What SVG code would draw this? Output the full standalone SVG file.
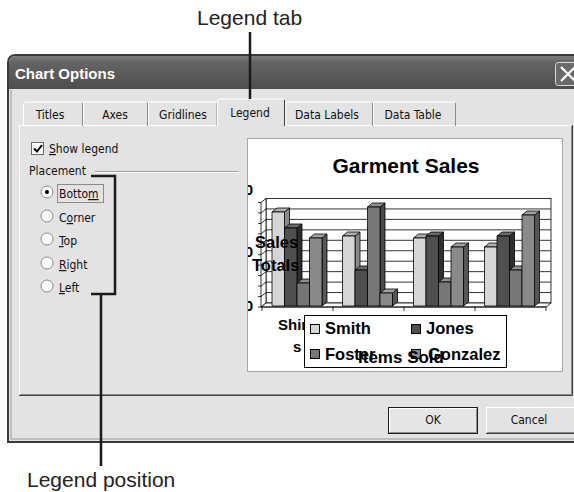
<svg xmlns="http://www.w3.org/2000/svg" width="574" height="492" viewBox="0 0 574 492">
<defs>
<linearGradient id="tb" x1="0" y1="0" x2="0" y2="1"><stop offset="0" stop-color="#7c7c7c"/><stop offset="0.2" stop-color="#646464"/><stop offset="1" stop-color="#4e4e4e"/></linearGradient>
<clipPath id="chartClip"><rect x="248" y="139" width="315" height="233"/></clipPath>
<style>
.ui{font-family:'DejaVu Sans Condensed','DejaVu Sans',sans-serif;font-stretch:condensed;font-size:12px;fill:#111}
.ch{font-family:'Liberation Sans',Arial,sans-serif;font-weight:bold;fill:#000}
.call{font-family:'Liberation Sans',Arial,sans-serif;font-size:21px;fill:#222}
.hl{fill:none;stroke:#fff}
.sh{fill:none;stroke:#8c8c8c}
.dk{fill:none;stroke:#404040}
.bar{stroke:#000;stroke-width:0.8;stroke-linejoin:round}
.s1{fill:#d6d6d6}.s1t{fill:#b0b0b0}.s1s{fill:#8a8a8a}
.s2{fill:#4f4f4f}.s2t{fill:#6a6a6a}.s2s{fill:#2e2e2e}
.s3{fill:#767676}.s3t{fill:#8e8e8e}.s3s{fill:#4a4a4a}
.s4{fill:#8a8a8a}.s4t{fill:#a2a2a2}.s4s{fill:#565656}
.radio{fill:#fff;stroke:#8a8a8a}
.cl{fill:none;stroke:#1a1a1a;stroke-width:2.5}
</style>
</defs>
<rect x="0" y="0" width="574" height="492" fill="#fff"/>

<g id="dialog">
  <path d="M8,442V63Q8,55 16,55H590V442Z" fill="#e3e3e3" stroke="#3a3a3a" stroke-width="2"/>
  <path d="M11,90V439H590" fill="none" stroke="#9a9a9a"/>
  <path d="M9,89V63Q9,56 16,56H590V89Z" fill="url(#tb)"/>
  <text x="15" y="79" font-family="'Liberation Sans',Arial,sans-serif" font-weight="bold" font-size="15" fill="#fff">Chart Options</text>
  <g id="close-button">
    <rect x="555.5" y="62.5" width="26" height="23" rx="3" fill="#6a6a6a" stroke="#dcdcdc"/>
    <path d="M561,67L575,81M575,67L561,81" stroke="#fff" stroke-width="2.2" fill="none"/>
  </g>
</g>

<g id="panel">
  <path class="hl" d="M19.5,395V125.5H217.5M285.5,125.5H571"/>
  <path class="sh" d="M20,394.5H571.5V126"/>
  <path class="dk" d="M19,395.5H572.5V125"/>
</g>

<g id="tabs">
  <g id="tab-titles">
    <path class="hl" d="M23.5,126V104l2-2H81.5"/><path class="sh" d="M82.5,103V126"/>
    <text class="ui" x="50" y="119" text-anchor="middle">Titles</text>
  </g>
  <g id="tab-axes">
    <path class="hl" d="M83.5,126V102H146.5"/><path class="sh" d="M147.5,103V126"/>
    <text class="ui" x="115" y="119" text-anchor="middle">Axes</text>
  </g>
  <g id="tab-gridlines">
    <path class="hl" d="M148.5,126V102H216.5"/><path class="sh" d="M217,103V126"/>
    <text class="ui" x="183" y="119" text-anchor="middle">Gridlines</text>
  </g>
  <g id="tab-legend">
    <path class="hl" d="M217.5,126V101l2-2H283.5"/><path class="dk" d="M284.5,100V126"/>
    <text class="ui" x="250" y="117" text-anchor="middle">Legend</text>
  </g>
  <g id="tab-data-labels">
    <path class="hl" d="M286,126V102H371.5"/><path class="sh" d="M372.5,103V126"/>
    <text class="ui" x="327" y="119" text-anchor="middle">Data Labels</text>
  </g>
  <g id="tab-data-table">
    <path class="hl" d="M373.5,126V102H454.5"/><path class="sh" d="M455.5,103V126"/>
    <text class="ui" x="413" y="119" text-anchor="middle">Data Table</text>
  </g>
</g>

<g id="options">
  <g id="show-legend">
    <rect x="31.5" y="142.5" width="12" height="12" fill="#fff" stroke="#6a6a6a"/>
    <path d="M34,148.5L37,151.5L42,145" fill="none" stroke="#000" stroke-width="2"/>
    <text class="ui" x="49" y="153"><tspan text-decoration="underline">S</tspan>how legend</text>
  </g>
  <g id="placement">
    <text class="ui" x="29" y="175">Placement</text>
    <line x1="95" y1="171.5" x2="239" y2="171.5" stroke="#a0a0a0"/>
    <line x1="95" y1="172.5" x2="239" y2="172.5" stroke="#fff"/>
  </g>
  <g id="opt-bottom">
    <circle class="radio" cx="47" cy="192" r="6"/><circle cx="47" cy="192" r="2" fill="#000"/>
    <rect x="57.5" y="184.5" width="46" height="18" fill="none" stroke="#333" stroke-dasharray="1,1"/>
    <text class="ui" x="59" y="198">Botto<tspan text-decoration="underline">m</tspan></text>
  </g>
  <g id="opt-corner">
    <circle class="radio" cx="47" cy="216" r="6"/>
    <text class="ui" x="59" y="222">C<tspan text-decoration="underline">o</tspan>rner</text>
  </g>
  <g id="opt-top">
    <circle class="radio" cx="47" cy="239" r="6"/>
    <text class="ui" x="59" y="245"><tspan text-decoration="underline">T</tspan>op</text>
  </g>
  <g id="opt-right">
    <circle class="radio" cx="47" cy="263" r="6"/>
    <text class="ui" x="59" y="269"><tspan text-decoration="underline">R</tspan>ight</text>
  </g>
  <g id="opt-left">
    <circle class="radio" cx="47" cy="286" r="6"/>
    <text class="ui" x="59" y="292"><tspan text-decoration="underline">L</tspan>eft</text>
  </g>
</g>

<g id="chart-preview">
  <rect x="247.5" y="138.5" width="315" height="233" fill="#fff" stroke="#a8a8a8"/>
  <text class="ch" x="406" y="173" font-size="21" text-anchor="middle">Garment Sales</text>
  <g id="plot" stroke="#000" stroke-width="0.8" fill="#fff">
    <rect x="266" y="198.5" width="285" height="104.5"/>
    <path fill="none" d="M266,208.95H551M266,219.4H551M266,229.85H551M266,240.3H551M266,250.75H551M266,261.2H551M266,271.65H551M266,282.1H551M266,292.55H551"/>
    <polygon points="261,202.5 266,198.5 266,303 261,307"/>
    <path fill="none" d="M261,212.95L266,208.95M261,223.4L266,219.4M261,233.85L266,229.85M261,244.3L266,240.3M261,254.75L266,250.75M261,265.2L266,261.2M261,275.65L266,271.65M261,286.1L266,282.1M261,296.55L266,292.55"/>
    <path fill="none" d="M258,202.5H261M258,212.95H261M258,223.4H261M258,233.85H261M258,244.3H261M258,254.75H261M258,265.2H261M258,275.65H261M258,286.1H261M258,296.55H261M258,307H261"/>
    <polygon points="261,307 266,303 551,303 546,307"/>
    <path fill="none" d="M261,307H546M262,307V311M333,307V311M404,307V311M475,307V311M546,307V311"/>
  </g>
  <g id="bars" class="bar">
    <g transform="translate(272,212)"><polygon class="s1s" points="12.5,0 17.5,-4 17.5,90 12.5,94"/><polygon class="s1t" points="0,0 5,-4 17.5,-4 12.5,0"/><rect class="s1" width="12.5" height="94"/></g>
    <g transform="translate(284.5,228)"><polygon class="s2s" points="12.5,0 17.5,-4 17.5,74 12.5,78"/><polygon class="s2t" points="0,0 5,-4 17.5,-4 12.5,0"/><rect class="s2" width="12.5" height="78"/></g>
    <g transform="translate(297,283)"><polygon class="s3s" points="12.5,0 17.5,-4 17.5,19 12.5,23"/><polygon class="s3t" points="0,0 5,-4 17.5,-4 12.5,0"/><rect class="s3" width="12.5" height="23"/></g>
    <g transform="translate(309.5,238)"><polygon class="s4s" points="12.5,0 17.5,-4 17.5,64 12.5,68"/><polygon class="s4t" points="0,0 5,-4 17.5,-4 12.5,0"/><rect class="s4" width="12.5" height="68"/></g>

    <g transform="translate(342.5,236)"><polygon class="s1s" points="12.5,0 17.5,-4 17.5,66 12.5,70"/><polygon class="s1t" points="0,0 5,-4 17.5,-4 12.5,0"/><rect class="s1" width="12.5" height="70"/></g>
    <g transform="translate(355,270)"><polygon class="s2s" points="12.5,0 17.5,-4 17.5,32 12.5,36"/><polygon class="s2t" points="0,0 5,-4 17.5,-4 12.5,0"/><rect class="s2" width="12.5" height="36"/></g>
    <g transform="translate(367.5,207)"><polygon class="s3s" points="12.5,0 17.5,-4 17.5,95 12.5,99"/><polygon class="s3t" points="0,0 5,-4 17.5,-4 12.5,0"/><rect class="s3" width="12.5" height="99"/></g>
    <g transform="translate(380,293)"><polygon class="s4s" points="12.5,0 17.5,-4 17.5,9 12.5,13"/><polygon class="s4t" points="0,0 5,-4 17.5,-4 12.5,0"/><rect class="s4" width="12.5" height="13"/></g>

    <g transform="translate(413.5,238)"><polygon class="s1s" points="12.5,0 17.5,-4 17.5,64 12.5,68"/><polygon class="s1t" points="0,0 5,-4 17.5,-4 12.5,0"/><rect class="s1" width="12.5" height="68"/></g>
    <g transform="translate(426,236)"><polygon class="s2s" points="12.5,0 17.5,-4 17.5,66 12.5,70"/><polygon class="s2t" points="0,0 5,-4 17.5,-4 12.5,0"/><rect class="s2" width="12.5" height="70"/></g>
    <g transform="translate(438.5,282)"><polygon class="s3s" points="12.5,0 17.5,-4 17.5,20 12.5,24"/><polygon class="s3t" points="0,0 5,-4 17.5,-4 12.5,0"/><rect class="s3" width="12.5" height="24"/></g>
    <g transform="translate(451,247)"><polygon class="s4s" points="12.5,0 17.5,-4 17.5,55 12.5,59"/><polygon class="s4t" points="0,0 5,-4 17.5,-4 12.5,0"/><rect class="s4" width="12.5" height="59"/></g>

    <g transform="translate(484.5,247)"><polygon class="s1s" points="12.5,0 17.5,-4 17.5,55 12.5,59"/><polygon class="s1t" points="0,0 5,-4 17.5,-4 12.5,0"/><rect class="s1" width="12.5" height="59"/></g>
    <g transform="translate(497,236)"><polygon class="s2s" points="12.5,0 17.5,-4 17.5,66 12.5,70"/><polygon class="s2t" points="0,0 5,-4 17.5,-4 12.5,0"/><rect class="s2" width="12.5" height="70"/></g>
    <g transform="translate(509.5,270)"><polygon class="s3s" points="12.5,0 17.5,-4 17.5,32 12.5,36"/><polygon class="s3t" points="0,0 5,-4 17.5,-4 12.5,0"/><rect class="s3" width="12.5" height="36"/></g>
    <g transform="translate(522,215)"><polygon class="s4s" points="12.5,0 17.5,-4 17.5,87 12.5,91"/><polygon class="s4t" points="0,0 5,-4 17.5,-4 12.5,0"/><rect class="s4" width="12.5" height="91"/></g>
  </g>
  <g id="axis-labels" clip-path="url(#chartClip)">
    <text class="ch" x="253" y="195" font-size="15" text-anchor="end">0</text>
    <text class="ch" x="253" y="257" font-size="15" text-anchor="end">0</text>
    <text class="ch" x="253" y="311" font-size="15" text-anchor="end">0</text>
  </g>
  <text class="ch" x="255" y="248" font-size="16.5">Sales</text>
  <text class="ch" x="252" y="271" font-size="16.5">Totals</text>
  <text class="ch" x="278" y="330" font-size="15">Shirt</text>
  <text class="ch" x="293" y="352" font-size="15">s</text>
  <g id="legend">
    <rect x="304.5" y="315.5" width="202" height="52" fill="#fff" stroke="#000"/>
    <rect x="310.5" y="324.5" width="9" height="9" class="s1" stroke="#000"/>
    <text class="ch" x="325" y="334" font-size="16.5">Smith</text>
    <rect x="411.5" y="324.5" width="9" height="9" class="s2" stroke="#000"/>
    <text class="ch" x="426" y="334" font-size="16.5">Jones</text>
    <rect x="310.5" y="349.5" width="9" height="9" class="s3" stroke="#000"/>
    <text class="ch" x="325" y="360" font-size="16.5">Foster</text>
    <rect x="411.5" y="349.5" width="9" height="9" class="s4" stroke="#000"/>
    <text class="ch" x="428" y="360" font-size="16.5">Gonzalez</text>
  </g>
  <text class="ch" x="358" y="363" font-size="17">Items Sold</text>
</g>

<g id="buttons">
  <g id="btn-ok">
    <rect x="388.5" y="407.5" width="89" height="26" fill="#e6e6e6" stroke="#1e1e1e"/>
    <path class="hl" d="M389.5,432V408.5H476"/>
    <path class="sh" d="M389.5,432.5H476.5V409"/>
    <text class="ui" x="433" y="424" text-anchor="middle">OK</text>
  </g>
  <g id="btn-cancel">
    <path class="hl" d="M486.5,433V407.5H590"/>
    <path class="sh" d="M487,432.5H590"/>
    <path class="dk" d="M486,433.5H590"/>
    <text class="ui" x="529" y="424" text-anchor="middle">Cancel</text>
  </g>
</g>

<g id="connectors">
  <line class="cl" x1="250" y1="32" x2="250" y2="99"/>
  <path class="cl" d="M91,176H115V294H91M101,294V466"/>
</g>

<g id="callout-labels">
  <text class="call" x="197" y="25">Legend tab</text>
  <text class="call" x="27" y="487">Legend position</text>
</g>
</svg>
